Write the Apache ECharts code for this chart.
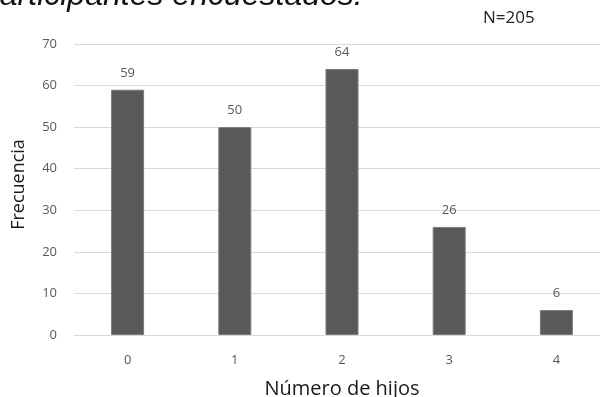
<!DOCTYPE html>
<html>
<head>
<meta charset="utf-8">
<script src="https://cdn.jsdelivr.net/npm/echarts@6/dist/echarts.min.js"></script>
<style>
  html, body { margin: 0; padding: 0; background: #fff; }
  #chart { width: 600px; height: 397px; }
</style>
</head>
<body>
<div id="chart"></div>
<script>
// Number of children per participant (N = 205)
const categories = ['0', '1', '2', '3', '4'];
const frequencies = [59, 50, 64, 26, 6];
const yTicks = { min: 0, max: 70, interval: 10 };

const FONT = '"Open Sans", "Noto Sans", sans-serif';
const chart = echarts.init(document.getElementById('chart'), null, { renderer: 'canvas' });

chart.setOption({
  animation: false,
  backgroundColor: '#ffffff',
  grid: {
    left: 74, top: 44, width: 536, height: 291,
    containLabel: false, outerBoundsMode: 'none'
  },
  graphic: [
    {
      type: 'text', x: -18, y: 12,
      style: {
        text: 'participantes encuestados.',
        font: 'italic 32px "Liberation Sans", Arial, sans-serif',
        fill: '#111',
        verticalAlign: 'bottom'
      }
    },
    {
      type: 'text', left: 483, top: 10,
      style: { text: 'N=205', font: '17px ' + FONT, fill: '#222' }
    }
  ],
  xAxis: {
    type: 'category',
    data: categories,
    name: 'Número de hijos',
    nameLocation: 'middle',
    nameGap: 44,
    nameTextStyle: { fontFamily: FONT, fontSize: 20, color: '#1a1a1a' },
    axisLine: { show: true, lineStyle: { color: '#d9d9d9', width: 1 } },
    axisTick: { show: false },
    axisLabel: { fontFamily: FONT, fontSize: 13, color: '#595959', margin: 19 }
  },
  yAxis: {
    type: 'value',
    min: yTicks.min, max: yTicks.max, interval: yTicks.interval,
    name: 'Frecuencia',
    nameLocation: 'middle',
    nameGap: 46,
    nameRotate: 90,
    nameTextStyle: { fontFamily: FONT, fontSize: 18, color: '#1a1a1a', padding: [0, 0, 0, 10] },
    axisLine: { show: false },
    axisTick: { show: false },
    axisLabel: { fontFamily: FONT, fontSize: 13, color: '#595959', margin: 17 },
    splitLine: { lineStyle: { color: '#d9d9d9', width: 1 } }
  },
  series: [{
    type: 'bar',
    data: frequencies,
    barWidth: 33,
    itemStyle: { color: '#595959', borderColor: '#7a7a7a', borderWidth: 1 },
    label: {
      show: true, position: 'top', distance: 10,
      fontFamily: FONT, fontSize: 13, color: '#595959'
    }
  }]
});
</script>
</body>
</html>
